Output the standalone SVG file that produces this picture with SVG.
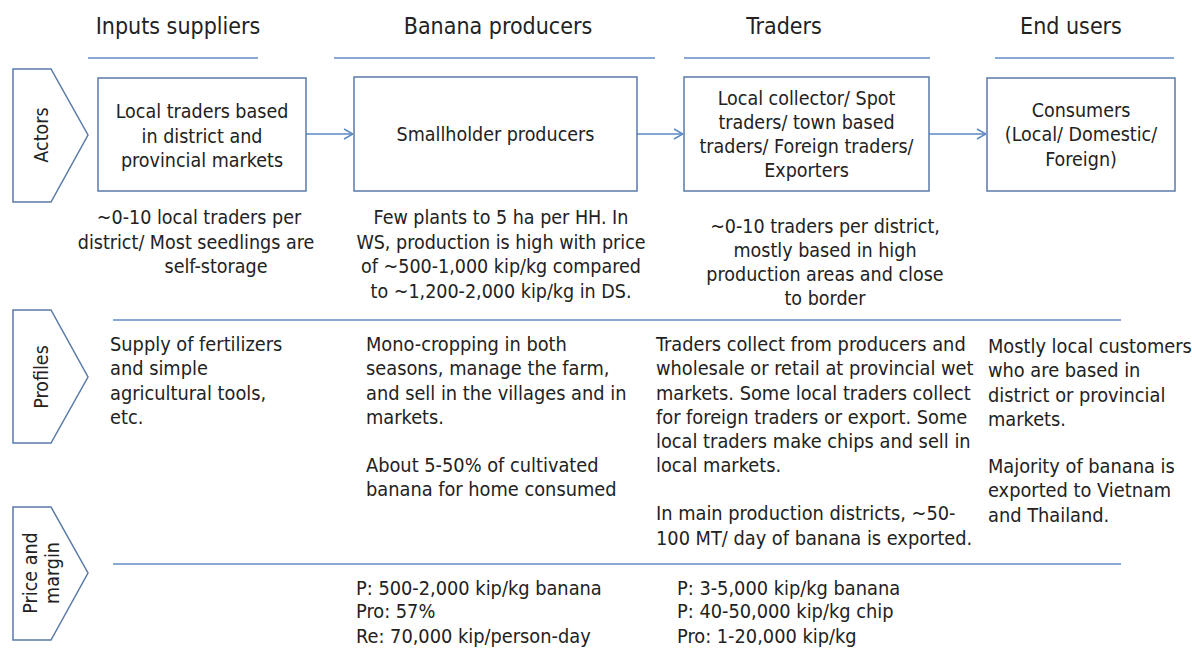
<svg xmlns="http://www.w3.org/2000/svg" width="1192" height="648" viewBox="0 0 1192 648">
  <defs>
    <style>
      text { font-family: "DejaVu Sans Condensed", "DejaVu Sans", sans-serif; font-stretch: condensed; fill: #222; }
      .hd { font-size: 23px; text-anchor: middle; }
      .bx { font-size: 19.5px; text-anchor: middle; }
      .nt { font-size: 19.5px; text-anchor: middle; }
      .tx { font-size: 19.8px; }
      .box { fill: #fff; stroke: #5a7aa8; stroke-width: 1.5; }
      .tag { fill: #fff; stroke: #5a7aa8; stroke-width: 1.5; }
      .rule { stroke: #88a9d4; stroke-width: 2; }
      .link { stroke: #5b89c4; stroke-width: 1.5; fill: none; }
    </style>
    <marker id="arr" viewBox="0 0 10 12" refX="10" refY="6" markerWidth="10" markerHeight="12" markerUnits="userSpaceOnUse" orient="auto">
      <path d="M1,1 L10,6 L1,11" fill="none" stroke="#5b89c4" stroke-width="1.5"/>
    </marker>
  </defs>
  <rect width="1192" height="648" fill="#fff"/>

  <!-- column headings -->
  <g id="headings">
    <text class="hd" x="178" y="34">Inputs suppliers</text>
    <text class="hd" x="498" y="34">Banana producers</text>
    <text class="hd" x="784" y="34">Traders</text>
    <text class="hd" x="1071" y="34">End users</text>
    <line class="rule" x1="88" y1="58" x2="258" y2="58"/>
    <line class="rule" x1="334" y1="58" x2="655" y2="58"/>
    <line class="rule" x1="684" y1="58" x2="930" y2="58"/>
    <line class="rule" x1="995" y1="58" x2="1174" y2="58"/>
  </g>

  <!-- row tags -->
  <g id="tag-actors">
    <polygon class="tag" points="13,69 51,69 88,135 51,202 13,202"/>
    <text class="bx" transform="translate(48,135) rotate(-90)">Actors</text>
  </g>
  <g id="tag-profiles">
    <polygon class="tag" points="13,310 51,310 88,377 51,443 13,443"/>
    <text class="bx" transform="translate(48,377) rotate(-90)">Profiles</text>
  </g>
  <g id="tag-price">
    <polygon class="tag" points="13,507 51,507 88,573 51,640 13,640"/>
    <text class="bx" transform="translate(37,573) rotate(-90)">Price and</text>
    <text class="bx" transform="translate(59,573) rotate(-90)">margin</text>
  </g>

  <!-- connectors -->
  <g id="connectors">
    <line class="link" x1="306" y1="134" x2="353" y2="134" marker-end="url(#arr)"/>
    <line class="link" x1="637" y1="134" x2="683" y2="134" marker-end="url(#arr)"/>
    <line class="link" x1="929" y1="134" x2="986" y2="134" marker-end="url(#arr)"/>
  </g>

  <!-- actor nodes -->
  <g id="node-inputs">
    <rect class="box" x="98" y="78" width="208" height="113"/>
    <text class="bx" x="202" y="118">Local traders based</text>
    <text class="bx" x="202" y="142.5">in district and</text>
    <text class="bx" x="202" y="167">provincial markets</text>
  </g>
  <g id="node-producers">
    <rect class="box" x="354" y="77" width="283" height="114"/>
    <text class="bx" x="495.5" y="141">Smallholder producers</text>
  </g>
  <g id="node-traders">
    <rect class="box" x="684" y="77" width="245" height="114"/>
    <text class="bx" x="806.5" y="105">Local collector/ Spot</text>
    <text class="bx" x="806.5" y="129">traders/ town based</text>
    <text class="bx" x="806.5" y="153">traders/ Foreign traders/</text>
    <text class="bx" x="806.5" y="177">Exporters</text>
  </g>
  <g id="node-consumers">
    <rect class="box" x="987" y="78" width="188" height="113"/>
    <text class="bx" x="1081" y="117">Consumers</text>
    <text class="bx" x="1081" y="141">(Local/ Domestic/</text>
    <text class="bx" x="1081" y="166">Foreign)</text>
  </g>

  <!-- actor notes -->
  <g id="notes">
    <text class="nt" x="199" y="224">~0-10 local traders per</text>
    <text class="nt" x="196" y="249">district/ Most seedlings are</text>
    <text class="nt" x="216" y="273">self-storage</text>
    <text class="nt" x="501" y="224">Few plants to 5 ha per HH. In</text>
    <text class="nt" x="501" y="249">WS, production is high with price</text>
    <text class="nt" x="501" y="273">of ~500-1,000 kip/kg compared</text>
    <text class="nt" x="501" y="298">to ~1,200-2,000 kip/kg in DS.</text>
    <text class="nt" x="825" y="233">~0-10 traders per district,</text>
    <text class="nt" x="825" y="257">mostly based in high</text>
    <text class="nt" x="825" y="281">production areas and close</text>
    <text class="nt" x="825" y="305">to border</text>
  </g>

  <line class="rule" x1="113" y1="320" x2="1121" y2="320"/>

  <!-- profiles -->
  <g id="profiles">
    <text class="tx" x="110" y="351">Supply of fertilizers</text>
    <text class="tx" x="110" y="375">and simple</text>
    <text class="tx" x="110" y="400">agricultural tools,</text>
    <text class="tx" x="110" y="424">etc.</text>

    <text class="tx" x="366" y="351">Mono-cropping in both</text>
    <text class="tx" x="366" y="375">seasons, manage the farm,</text>
    <text class="tx" x="366" y="400">and sell in the villages and in</text>
    <text class="tx" x="366" y="424">markets.</text>
    <text class="tx" x="366" y="472">About 5-50% of cultivated</text>
    <text class="tx" x="366" y="496">banana for home consumed</text>

    <text class="tx" x="656" y="351">Traders collect from producers and</text>
    <text class="tx" x="656" y="375">wholesale or retail at provincial wet</text>
    <text class="tx" x="656" y="400">markets. Some local traders collect</text>
    <text class="tx" x="656" y="424">for foreign traders or export. Some</text>
    <text class="tx" x="656" y="448">local traders make chips and sell in</text>
    <text class="tx" x="656" y="472">local markets.</text>
    <text class="tx" x="656" y="520">In main production districts, ~50-</text>
    <text class="tx" x="656" y="545">100 MT/ day of banana is exported.</text>

    <text class="tx" x="988" y="353">Mostly local customers</text>
    <text class="tx" x="988" y="377">who are based in</text>
    <text class="tx" x="988" y="402">district or provincial</text>
    <text class="tx" x="988" y="426">markets.</text>
    <text class="tx" x="988" y="473">Majority of banana is</text>
    <text class="tx" x="988" y="497">exported to Vietnam</text>
    <text class="tx" x="988" y="522">and Thailand.</text>
  </g>

  <line class="rule" x1="113" y1="564" x2="1121" y2="564"/>

  <!-- price and margin -->
  <g id="prices">
    <text class="tx" x="356" y="595">P: 500-2,000 kip/kg banana</text>
    <text class="tx" x="356" y="618">Pro: 57%</text>
    <text class="tx" x="356" y="643">Re: 70,000 kip/person-day</text>
    <text class="tx" x="677" y="595">P: 3-5,000 kip/kg banana</text>
    <text class="tx" x="677" y="618">P: 40-50,000 kip/kg chip</text>
    <text class="tx" x="677" y="643">Pro: 1-20,000 kip/kg</text>
  </g>
</svg>
